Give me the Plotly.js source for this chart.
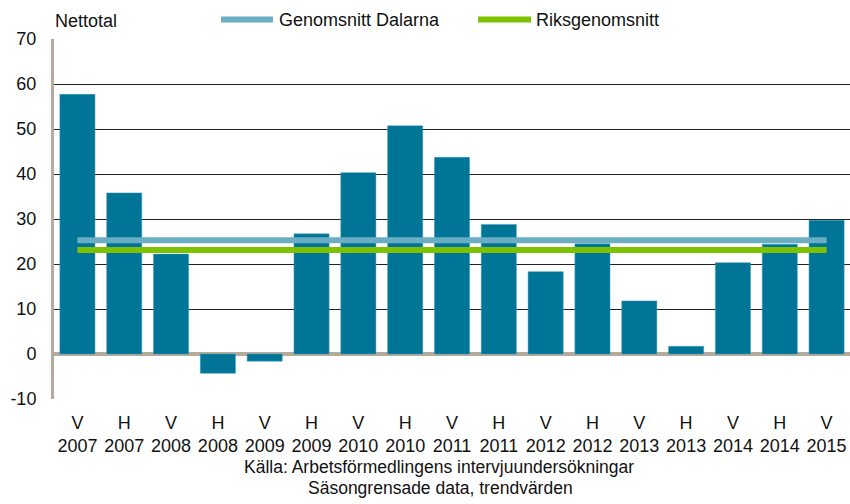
<!DOCTYPE html>
<html>
<head>
<meta charset="utf-8">
<script src="https://cdn.plot.ly/plotly-3.0.1.min.js"></script>
<style>html,body{margin:0;padding:0;background:#fff}#chart{width:850px;height:504px}</style>
</head>
<body>
<div id="chart"></div>
<script>
const periods = ['V','H','V','H','V','H','V','H','V','H','V','H','V','H','V','H','V'];
const years = ['2007','2007','2008','2008','2009','2009','2010','2010','2011','2011','2012','2012','2013','2013','2014','2014','2015'];
const nettotal = [57.7, 35.8, 22.2, -4.3, -1.6, 26.7, 40.3, 50.7, 43.7, 28.8, 18.3, 24.5, 11.8, 1.7, 20.3, 24.4, 29.7];
const dalarnaAvg = [25.3, 25.3];
const riksAvg = [23.1, 23.1];
const yTicks = [-10, 0, 10, 20, 30, 40, 50, 60, 70];
const seriesNames = ['Genomsnitt Dalarna', 'Riksgenomsnitt'];
const yTitle = 'Nettotal';
const sourceLines = ['Källa: Arbetsförmedlingens intervjuundersökningar', 'Säsongrensade data, trendvärden'];

const cats = periods.map((p, i) => p + '<br>' + years[i]);
const lineX = [cats[0], cats[cats.length - 1]];
const font = 'Liberation Sans, Arial, sans-serif';
const T = 38.5, B = 104.7, L = 54, PH = 504 - T - B, PW = 850 - L;
const px = x => (x - L) / PW;
const py = y => (504 - B - y) / PH;

const traces = [
  {type: 'bar', x: cats, y: nettotal, marker: {color: '#007597', line: {color: '#3d9bb5', width: 0.5}}, showlegend: false, hoverinfo: 'y'},
  {type: 'scatter', mode: 'lines', x: lineX, y: dalarnaAvg, line: {color: '#6BAEC3', width: 6}, showlegend: false},
  {type: 'scatter', mode: 'lines', x: lineX, y: riksAvg, line: {color: '#7DC100', width: 6}, showlegend: false}
];

const layout = {
  width: 850, height: 504,
  margin: {l: L, r: 0, t: T, b: B},
  paper_bgcolor: '#fff', plot_bgcolor: '#fff',
  font: {family: font, size: 18, color: '#000'},
  bargap: 0.25,
  xaxis: {
    type: 'category', showgrid: false, zeroline: false, showline: false,
    ticks: '', ticklabelstandoff: 11, tickfont: {size: 18, color: '#111'}
  },
  yaxis: {
    range: [-10, 70], tickvals: yTicks, ticktext: yTicks.map(String),
    showgrid: true, gridcolor: '#222', gridwidth: 1,
    zeroline: true, zerolinecolor: '#B5AB9D', zerolinewidth: 4,
    showline: true, linecolor: '#B5AB9D', linewidth: 3,
    ticks: '', ticklabelstandoff: 11, tickfont: {size: 18, color: '#111'}
  },
  shapes: [
    {type: 'line', xref: 'paper', yref: 'paper', x0: px(221), x1: px(273), y0: py(19), y1: py(19), line: {color: '#6BAEC3', width: 6}},
    {type: 'line', xref: 'paper', yref: 'paper', x0: px(478), x1: px(531), y0: py(19), y1: py(19), line: {color: '#7DC100', width: 6}}
  ],
  annotations: [
    {text: yTitle, xref: 'paper', yref: 'paper', x: px(53), y: py(20), xanchor: 'left', yanchor: 'middle', showarrow: false, font: {size: 18, color: '#111'}},
    {text: seriesNames[0], xref: 'paper', yref: 'paper', x: px(277), y: py(19), xanchor: 'left', yanchor: 'middle', showarrow: false, font: {size: 18, color: '#111'}},
    {text: seriesNames[1], xref: 'paper', yref: 'paper', x: px(534), y: py(19), xanchor: 'left', yanchor: 'middle', showarrow: false, font: {size: 18, color: '#111'}},
    {text: sourceLines[0], xref: 'paper', yref: 'paper', x: px(439), y: py(467), xanchor: 'center', yanchor: 'middle', showarrow: false, font: {size: 17.5, color: '#111'}},
    {text: sourceLines[1], xref: 'paper', yref: 'paper', x: px(440), y: py(488), xanchor: 'center', yanchor: 'middle', showarrow: false, font: {size: 17.5, color: '#111'}}
  ]
};

Plotly.newPlot('chart', traces, layout, {displayModeBar: false, staticPlot: true});
</script>
</body>
</html>
